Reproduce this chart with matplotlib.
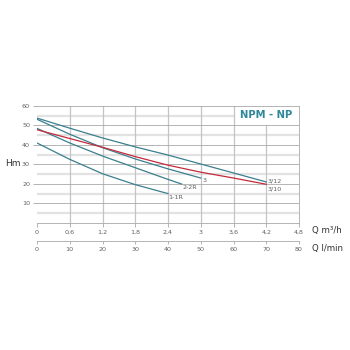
import matplotlib
matplotlib.use("Agg")
import matplotlib.pyplot as plt

# Pump curves: flow Q (m3/h) vs head H (m)
q_3_12 = [0, 0.6, 1.2, 1.8, 2.4, 3.0, 3.6, 4.2]
h_3_12 = [53.8, 48.6, 43.6, 39.0, 34.8, 30.2, 25.6, 21.0]

q_3_10 = [0, 0.6, 1.2, 1.8, 2.4, 3.0, 3.6, 4.2]
h_3_10 = [47.8, 43.3, 38.8, 34.0, 29.6, 26.0, 23.0, 19.8]

q_3 = [0, 0.6, 1.2, 1.8, 2.4, 3.0]
h_3 = [53.2, 45.5, 38.6, 32.8, 27.7, 23.0]

q_2_2r = [0, 0.6, 1.2, 1.8, 2.4, 2.65]
h_2_2r = [48.5, 41.0, 34.3, 28.3, 22.3, 19.9]

q_1_1r = [0, 0.6, 1.2, 1.8, 2.4]
h_1_1r = [41.0, 32.6, 25.2, 19.6, 15.0]

q_ticks = [0, 0.6, 1.2, 1.8, 2.4, 3.0, 3.6, 4.2, 4.8]
q_tick_labels = ["0", "0,6", "1,2", "1,8", "2,4", "3", "3,6", "4,2", "4,8"]
l_ticks = [0, 10, 20, 30, 40, 50, 60, 70, 80]
h_ticks = [10, 20, 30, 40, 50, 60]

TEAL = "#3a7f8e"
RED = "#c42a3c"
TXT = "#606060"
GRID = "#a8a8a8"

fig = plt.figure(figsize=(3.5, 3.5), dpi=100)
fig.patch.set_facecolor("white")

left, right = 37 / 350, 299 / 350
top, bottom = 1 - 106 / 350, 1 - 222.8 / 350
ax = fig.add_axes([left, bottom, right - left, top - bottom])
ax.set_xlim(0, 4.8)
ax.set_ylim(0, 60)

# grid, leaving the title cell (3.6-4.8, 50-60) open
box_x, box_y = 3.6, 50
for y in range(5, 60, 5):
    xmax = box_x / 4.8 if y > box_y else 1
    if y % 10 == 0:
        ax.axhline(y, xmax=xmax, color=GRID, lw=0.6, zorder=1)
    else:
        ax.axhline(y, xmax=xmax, color="#e2e2e2", lw=1.6, zorder=0.5)
for x in q_ticks[1:-1]:
    ymax = box_y / 60 if x > box_x else 1
    ax.axvline(x, ymax=ymax, color="#c4c4c4", lw=0.9, zorder=0.8)

ax.text(4.2, 55.2, "NPM - NP", ha="center", va="center", fontsize=7.2,
        fontweight="bold", color="#2f8799", zorder=3)

for s in ["top", "right", "bottom"]:
    ax.spines[s].set_color(GRID)
    ax.spines[s].set_linewidth(0.6)
ax.spines["left"].set_visible(False)

ax.set_xticks(q_ticks)
ax.set_xticklabels(q_tick_labels)
ax.set_yticks(h_ticks)
ax.tick_params(axis="both", labelsize=4.6, colors=GRID, labelcolor=TXT, length=3, width=0.6, pad=2)

# curves
lw = 0.9
ax.plot(q_3_12, h_3_12, color=TEAL, lw=lw, zorder=4)
ax.plot(q_3, h_3, color=TEAL, lw=lw, zorder=4)
ax.plot(q_2_2r, h_2_2r, color=TEAL, lw=lw, zorder=4)
ax.plot(q_1_1r, h_1_1r, color=TEAL, lw=lw, zorder=4)
ax.plot(q_3_10, h_3_10, color=RED, lw=lw, zorder=5)

lab_kw = dict(textcoords="offset points", fontsize=4.6, color=TXT, ha="left", va="center", zorder=6)
ax.annotate("1-1R", (q_1_1r[-1], h_1_1r[-1]), xytext=(0.4, -2.5), **lab_kw)
ax.annotate("2-2R", (q_2_2r[-1], h_2_2r[-1]), xytext=(0.7, -2.7), **lab_kw)
ax.annotate("3", (q_3[-1], h_3[-1]), xytext=(1.5, -1.5), **lab_kw)
ax.annotate("3/12", (q_3_12[-1], h_3_12[-1]), xytext=(0.7, 0.8), **lab_kw)
ax.annotate("3/10", (q_3_10[-1], h_3_10[-1]), xytext=(0.7, -3.4), **lab_kw)

fig.text(5 / 350, 1 - 163 / 350, "Hm", fontsize=6.5, color="#333333", ha="left", va="center")
fig.text(312.5 / 350, 1 - 230 / 350, "Q m³/h", fontsize=6.2, color="#333333", ha="left", va="center")

# second flow scale in l/min
ax2 = fig.add_axes([left, 1 - 240.7 / 350, right - left, 0.0001])
ax2.set_xlim(0, 80)
ax2.set_yticks([])
for s in ["top", "left", "right"]:
    ax2.spines[s].set_visible(False)
ax2.spines["bottom"].set_color(GRID)
ax2.spines["bottom"].set_linewidth(0.6)
ax2.set_xticks(l_ticks)
ax2.tick_params(axis="x", labelsize=4.6, colors=GRID, labelcolor=TXT, length=2.5, width=0.6, pad=2)
fig.text(312.5 / 350, 1 - 248.3 / 350, "Q l/min", fontsize=6.2, color="#333333", ha="left", va="center")

fig.savefig("out.png", dpi=100, facecolor="white")
